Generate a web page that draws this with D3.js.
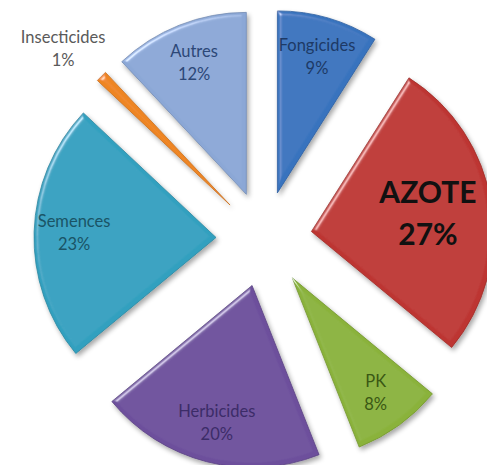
<!DOCTYPE html>
<html>
<head>
<meta charset="utf-8">
<script src="https://cdn.jsdelivr.net/npm/d3@7"></script>
<style>
  html, body { margin: 0; padding: 0; background: #fff; }
  svg { display: block; }
  text { font-family: Lato, "Open Sans", sans-serif; }
</style>
</head>
<body>
<svg width="487" height="465"></svg>
<script>
// Chart data
const categories = ['Fongicides', 'AZOTE', 'PK', 'Herbicides', 'Semences', 'Insecticides', 'Autres']
const values = [9, 27, 8, 20, 23, 1, 12]
const fills = ['#3873be', '#bd3631', '#8ab23a', '#6d4f9c', '#33a0bf', '#ee8524', '#8ba7d6']
const textColors = ['#1d3a66', '#111111', '#3a5814', '#3c2c68', '#1a5466', '#5a5a5a', '#2c4777']

const width = 487
const height = 465
const cx = 264
const cy = 239
const radius = 182
const explode = 48

const svg = d3.select('svg')

// Bevel + shadow, close to the office look
const defs = svg.append('defs')
const filter = defs.append('filter')
  .attr('id', 'bevel')
  .attr('x', '-10%').attr('y', '-10%')
  .attr('width', '130%').attr('height', '130%')
filter.append('feGaussianBlur')
  .attr('in', 'SourceAlpha').attr('stdDeviation', 2).attr('result', 'blur')
filter.append('feSpecularLighting')
  .attr('in', 'blur').attr('surfaceScale', 3)
  .attr('specularConstant', 0.5).attr('specularExponent', 35)
  .attr('lighting-color', '#ffffff').attr('result', 'spec')
  .append('feDistantLight').attr('azimuth', 225).attr('elevation', 40)
filter.append('feComposite')
  .attr('in', 'spec').attr('in2', 'SourceAlpha').attr('operator', 'in').attr('result', 'specIn')
filter.append('feComposite')
  .attr('in', 'SourceGraphic').attr('in2', 'specIn').attr('operator', 'arithmetic')
  .attr('k1', 0).attr('k2', 1).attr('k3', 1).attr('k4', 0).attr('result', 'lit')
filter.append('feGaussianBlur')
  .attr('in', 'SourceAlpha').attr('stdDeviation', 2.5).attr('result', 'shBlur')
filter.append('feOffset')
  .attr('in', 'shBlur').attr('dx', 2).attr('dy', 3).attr('result', 'shOff')
filter.append('feComponentTransfer')
  .attr('in', 'shOff').attr('result', 'shadow')
  .append('feFuncA').attr('type', 'linear').attr('slope', 0.35)
const merge = filter.append('feMerge')
merge.append('feMergeNode').attr('in', 'shadow')
merge.append('feMergeNode').attr('in', 'lit')

const slices = categories.map((name, i) => ({ name, value: values[i], i }))

const pie = d3.pie()
  .sort(null)
  .value(d => d.value)

const arc = d3.arc()
  .innerRadius(0)
  .outerRadius(radius)

const root = svg.append('g')
  .attr('transform', `translate(${cx},${cy})`)

const arcs = pie(slices)

function offset(d, r) {
  const mid = (d.startAngle + d.endAngle) / 2
  return [Math.sin(mid) * r, -Math.cos(mid) * r]
}

const sliceG = root.selectAll('.slice')
  .data(arcs)
  .enter()
  .append('g')
  .attr('class', 'slice')
  .attr('transform', d => {
    const [x, y] = offset(d, explode)
    return `translate(${x},${y})`
  })

sliceG.append('path')
  .attr('d', arc)
  .attr('fill', d => fills[d.data.i])
  .attr('stroke', d => d3.color(fills[d.data.i]).darker(0.5))
  .attr('stroke-width', 0.8)
  .attr('stroke-linejoin', 'round')
  .attr('filter', 'url(#bevel)')

// Labels
function labelPos(d) {
  if (d.data.name === 'AZOTE') return offset(d, 118)
  if (d.data.value < 3) {
    // outside label, pushed towards the start of the slice
    const a = d.startAngle
    return [Math.sin(a) * 229, -Math.cos(a) * 229]
  }
  return offset(d, 142)
}

sliceG.each(function (d) {
  const g = d3.select(this)
  const [x, y] = labelPos(d)
  const big = d.data.name === 'AZOTE'
  const size = big ? 30 : 16.5
  const lineH = big ? 42 : 23
  const t = g.append('text')
    .attr('x', x)
    .attr('y', y)
    .attr('text-anchor', 'middle')
    .attr('fill', textColors[d.data.i])
    .attr('font-size', size)
    .attr('font-weight', big ? 'bold' : 'normal')
  t.append('tspan')
    .attr('x', x)
    .attr('dy', -lineH / 2 + size * 0.35)
    .text(d.data.name)
  t.append('tspan')
    .attr('x', x)
    .attr('dy', lineH)
    .text(d.data.value + '%')
})
</script>
</body>
</html>
